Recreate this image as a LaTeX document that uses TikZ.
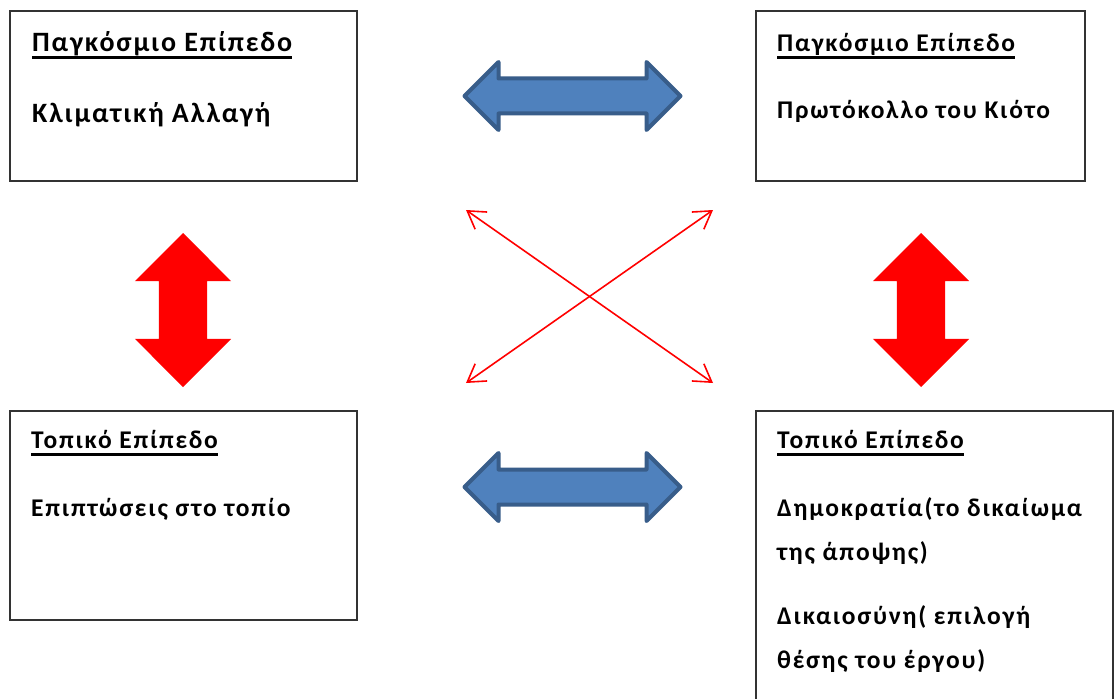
\documentclass[tikz,border=0pt]{standalone}
\usepackage{fontspec}
\setmainfont{Carlito}
\newfontfamily\boxfont[LetterSpace=7]{Carlito}
\newfontfamily\bigboxfont[LetterSpace=6.7]{Carlito}
\usetikzlibrary{positioning,shapes.arrows,arrows.meta}
\definecolor{arrowblue}{HTML}{4F81BD}
\definecolor{arrowedge}{HTML}{385D8A}
% thick underline for the level titles
\newcommand{\levelhead}[1]{\setbox0\hbox{#1}\rlap{\rule[-7.5pt]{\wd0}{2.5pt}}\box0}

\begin{document}
\begin{tikzpicture}[x=1pt, y=-1pt,
    level/.style={draw=black!80, line width=1.2pt, inner sep=0pt, outer sep=0pt, anchor=north west},
    txt/.style={font=\boxfont\fontsize{25.5}{44}\selectfont\bfseries, align=left, inner sep=0pt, anchor=north west},
    bigtxt/.style={txt, font=\bigboxfont\fontsize{28}{44}\selectfont\bfseries},
    bluearrow/.style={double arrow, fill=arrowblue, draw=arrowedge, line width=4pt, line join=round,
              minimum height=216pt, inner sep=15.5pt, double arrow head extend=16.5pt},
    redarrow/.style={double arrow, fill=red, shape border rotate=90,
              minimum height=154pt, inner sep=24pt, double arrow head extend=24pt},
    cross/.style={red, line width=1.6pt,
              {Straight Barb[length=17pt,width=21pt]}-{Straight Barb[length=17pt,width=21pt]}}]
    \path[use as bounding box, fill=white] (0,0) rectangle (1115,698);

    % the four boxes
    \node[level, minimum width=347pt, minimum height=170pt] (globL) at (10,11) {};
    \node[level, minimum width=329pt, minimum height=170pt] (globR) at (756,11) {};
    \node[level, minimum width=347pt, minimum height=209pt] (locL) at (10,411) {};
    \node[level, minimum width=357pt, minimum height=320pt] (locR) at (756,411) {};

    \node[bigtxt, below right=10pt and 22pt of globL.north west] (globLT)
        {\rule{0pt}{30pt}\levelhead{Παγκόσμιο Επίπεδο}\\[27pt] Κλιματική Αλλαγή};
    \node[txt, below right=10pt and 21pt of globR.north west] (globRT)
        {\rule{0pt}{30pt}\levelhead{Παγκόσμιο Επίπεδο}\\[23pt] Πρωτόκολλο του Κιότο};
    \node[txt, below right=7pt and 21pt of locL.north west] (locLT)
        {\rule{0pt}{30pt}\levelhead{Τοπικό Επίπεδο}\\[24pt] Επιπτώσεις στο τοπίο};
    \node[txt, below right=7pt and 21pt of locR.north west] (locRT)
        {\rule{0pt}{30pt}\levelhead{Τοπικό Επίπεδο}\\[24pt] Δημοκρατία(το δικαίωμα\\ της άποψης)\\[20pt]
         Δικαιοσύνη( επιλογή\\ θέσης του έργου)};

    % arrows between the levels
    \node[bluearrow] (topA) at (572.5,96) {};
    \node[bluearrow] (botA) at (572.5,487) {};
    \node[redarrow] (leftA) at (183,310) {};
    \node[redarrow] (rightA) at (921,310) {};

    \coordinate (xa) at (466,210);
    \coordinate (xb) at (713,383);
    \coordinate (xc) at (713,210);
    \coordinate (xd) at (466,383);
    \draw[cross] (xa) -- (xb);
    \draw[cross] (xd) -- (xc);
\end{tikzpicture}
\end{document}
